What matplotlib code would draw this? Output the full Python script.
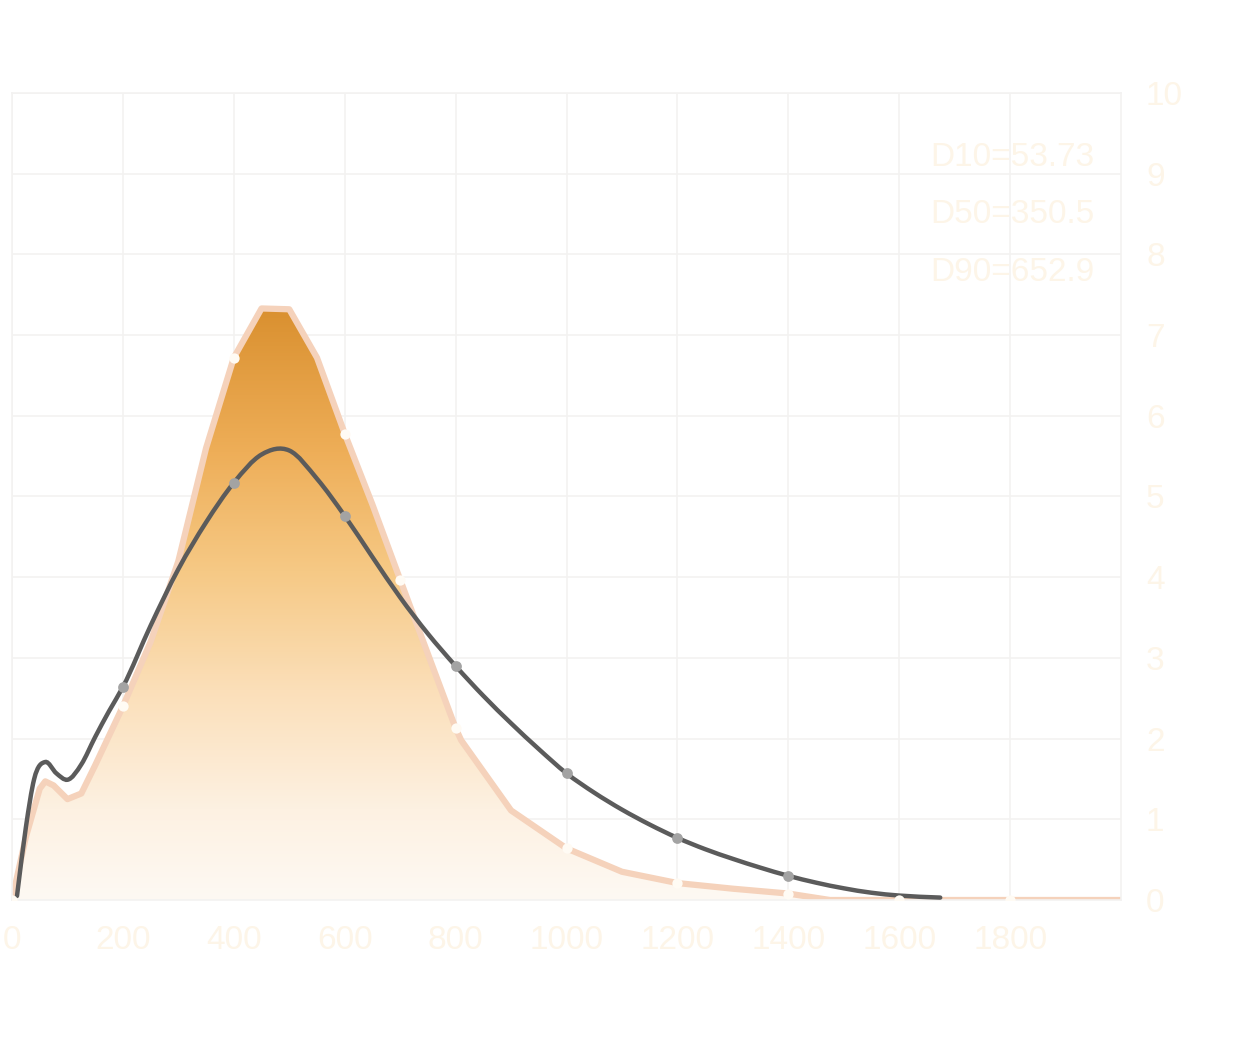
import numpy as np
import matplotlib
matplotlib.use("Agg")
import matplotlib.pyplot as plt
from matplotlib.colors import LinearSegmentedColormap
from matplotlib.path import Path
from matplotlib.patches import PathPatch

# measured distribution (area series)
size_area = [0, 25, 50, 60, 75, 100, 125, 150, 200, 250, 300, 350, 400, 450, 500, 550,
             600, 650, 700, 750, 800, 810, 900, 1000, 1100, 1200, 1300, 1400, 1475, 1600, 1800, 2000]
val_area = [0.0, 0.78, 1.38, 1.47, 1.42, 1.25, 1.32, 1.67, 2.4, 3.2, 4.2, 5.6, 6.72, 7.33, 7.32, 6.72,
            5.78, 4.9, 3.97, 3.05, 2.13, 1.98, 1.11, 0.64, 0.35, 0.21, 0.14, 0.08, 0.0, 0.0, 0.0, 0.0]
marker_area_x = [0, 200, 400, 600, 700, 800, 1000, 1200, 1400, 1600, 1800]

# fitted curve
size_fit = [9, 25, 40, 60, 80, 100, 125, 150, 175, 200, 250, 300, 350, 400, 450, 500,
            550, 600, 650, 700, 750, 800, 850, 900, 950, 1000, 1050, 1100, 1150, 1200, 1250,
            1300, 1350, 1400, 1450, 1500, 1550, 1600, 1674]
val_fit = [0.05, 0.9, 1.5, 1.71, 1.57, 1.49, 1.68, 2.02, 2.34, 2.64, 3.4, 4.1, 4.68, 5.17, 5.52,
           5.57, 5.22, 4.76, 4.25, 3.75, 3.3, 2.9, 2.53, 2.19, 1.87, 1.57, 1.33, 1.12, 0.935, 0.77,
           0.63, 0.51, 0.4, 0.3, 0.215, 0.145, 0.09, 0.055, 0.03]
marker_fit_x = [200, 400, 600, 800, 1000, 1200, 1400]

stats = ["D10=53.73", "D50=350.5", "D90=652.9"]
xticks = [0, 200, 400, 600, 800, 1000, 1200, 1400, 1600, 1800]
yticks = list(range(0, 11))

label_color = "#fdf5e8"
grid_color = "#f3f2f1"


def smooth_path(xs, ys):
    """Cubic hermite through the points (tangents from neighbouring slopes)."""
    x = np.asarray(xs, float)
    y = np.asarray(ys, float)
    h = np.diff(x)
    d = np.diff(y) / h
    m = np.empty_like(y)
    m[0], m[-1] = d[0], d[-1]
    m[1:-1] = (d[:-1] * h[1:] + d[1:] * h[:-1]) / (h[:-1] + h[1:])
    verts = [(x[0], y[0])]
    codes = [Path.MOVETO]
    for i in range(len(x) - 1):
        verts += [(x[i] + h[i] / 3, y[i] + m[i] * h[i] / 3),
                  (x[i + 1] - h[i] / 3, y[i + 1] - m[i + 1] * h[i] / 3),
                  (x[i + 1], y[i + 1])]
        codes += [Path.CURVE4] * 3
    return Path(verts, codes)


fig = plt.figure(figsize=(12.46, 10.48), dpi=100)
ax = fig.add_axes([12 / 1246, 148 / 1048, (1121 - 12) / 1246, (900 - 93) / 1048])
ax.set_xlim(0, 2000)
ax.set_ylim(0, 10)

# gradient fill under the area series
poly = ax.fill_between(size_area, val_area, 0, color="none", lw=0)
cmap = LinearSegmentedColormap.from_list(
    "sand", [(0.0, "#fef9f3"), (0.15, "#fdf1e2"), (0.35, "#fbdfb9"),
             (0.55, "#f6c985"), (0.75, "#eeae58"), (1.0, "#d98f2e")])
grad = np.linspace(0, 1, 256).reshape(-1, 1)
img = ax.imshow(grad, extent=[0, 2000, 0, 7.4], origin="lower", aspect="auto",
                cmap=cmap, zorder=1)
img.set_clip_path(poly.get_paths()[0], transform=ax.transData)

ax.plot(size_area, val_area, color="#f5d2bb", lw=4.5, solid_joinstyle="round", zorder=2)
ax.add_patch(PathPatch(smooth_path(size_fit, val_fit), facecolor="none", edgecolor="#5b5b5b",
                       lw=3.2, capstyle="round", zorder=3))

ax.scatter(marker_area_x, np.interp(marker_area_x, size_area, val_area), s=55,
           color="#fffbf4", zorder=4, linewidths=0)
ax.scatter(marker_fit_x, np.interp(marker_fit_x, size_fit, val_fit), s=60,
           color="#a3a3a3", zorder=4, linewidths=0)

for i, s in enumerate(stats):
    ax.text(0.828, 0.92 - i * 0.071, s, transform=ax.transAxes, fontsize=24,
            family="Liberation Sans", color=label_color, ha="left", va="center")

ax.set_xticks(xticks)
ax.set_yticks(yticks)
ax.yaxis.tick_right()
ax.tick_params(length=0, labelsize=24, labelcolor=label_color, pad=18)
for lab in ax.get_xticklabels() + ax.get_yticklabels():
    lab.set_family("Liberation Sans")
ax.grid(True, color=grid_color, lw=1.2, zorder=0)
ax.set_axisbelow(True)
for sp in ax.spines.values():
    sp.set_color(grid_color)
    sp.set_linewidth(1.2)

fig.savefig("out.png", dpi=100)
